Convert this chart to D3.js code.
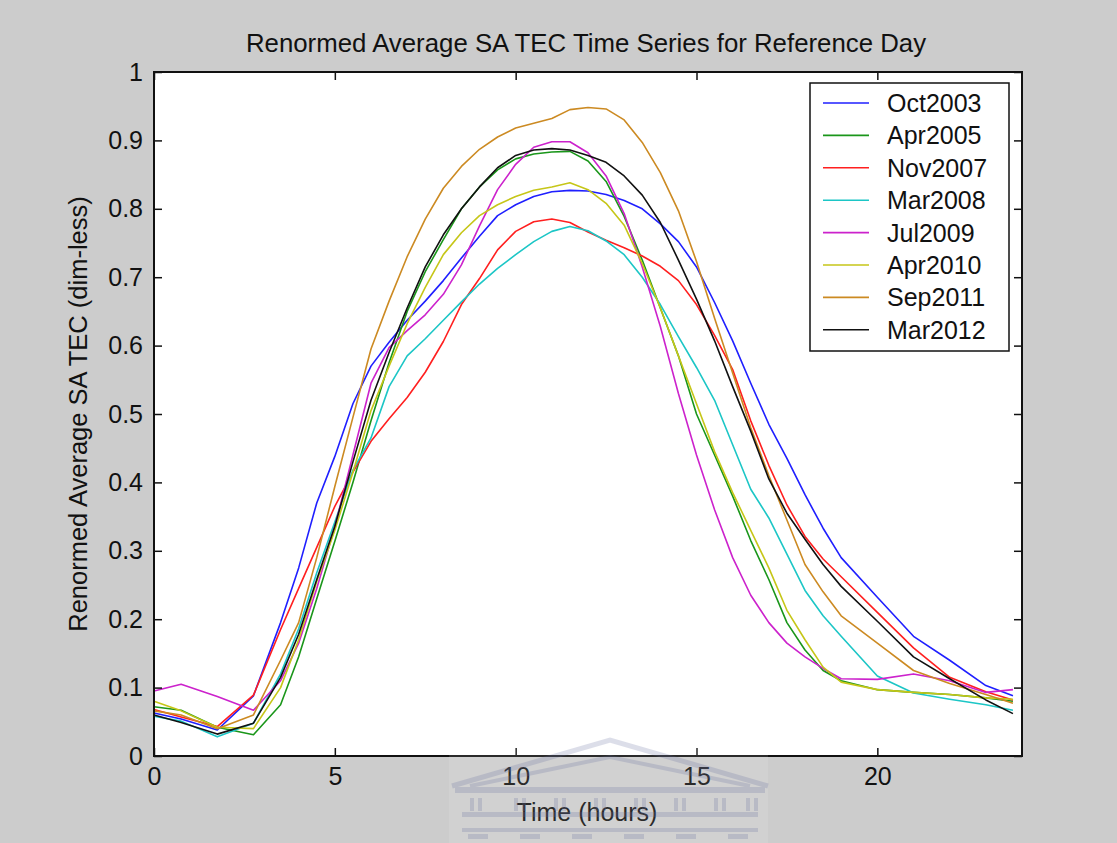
<!DOCTYPE html>
<html>
<head>
<meta charset="utf-8">
<script src="https://cdn.jsdelivr.net/npm/d3@7"></script>
<style>
  html, body { margin: 0; padding: 0; background: #cccccc; }
  svg { display: block; }
  text { font-family: "Liberation Sans", Arial, sans-serif; fill: #111; }
</style>
</head>
<body>
<svg id="chart" width="1117" height="843"></svg>
<script>
// ---- Data ----
const hours = [0, 0.75, 1.75, 2.75, 3.5, 4, 4.5, 5, 5.5, 6, 6.5, 7, 7.5, 8, 8.5, 9, 9.5, 10, 10.5, 11, 11.5, 12, 12.5, 13, 13.5, 14, 14.5, 15, 15.5, 16, 16.5, 17, 17.5, 18, 18.5, 19, 20, 21, 22, 23, 23.75];

const oct2003 = [0.063, 0.054, 0.038, 0.088, 0.195, 0.275, 0.37, 0.438, 0.515, 0.57, 0.605, 0.637, 0.665, 0.695, 0.728, 0.76, 0.79, 0.806, 0.818, 0.825, 0.827, 0.826, 0.821, 0.812, 0.80, 0.778, 0.752, 0.715, 0.663, 0.607, 0.545, 0.485, 0.435, 0.382, 0.333, 0.29, 0.232, 0.175, 0.14, 0.103, 0.088];
const apr2005 = [0.072, 0.067, 0.042, 0.031, 0.075, 0.145, 0.23, 0.314, 0.40, 0.49, 0.575, 0.65, 0.708, 0.755, 0.80, 0.832, 0.857, 0.873, 0.88, 0.883, 0.884, 0.87, 0.84, 0.789, 0.725, 0.655, 0.585, 0.50, 0.44, 0.38, 0.315, 0.258, 0.195, 0.155, 0.125, 0.11, 0.097, 0.093, 0.09, 0.085, 0.08];
const nov2007 = [0.068, 0.057, 0.043, 0.089, 0.185, 0.245, 0.305, 0.365, 0.415, 0.46, 0.493, 0.524, 0.561, 0.606, 0.66, 0.698, 0.74, 0.767, 0.781, 0.785, 0.78, 0.766, 0.754, 0.743, 0.731, 0.716, 0.695, 0.66, 0.615, 0.565, 0.49, 0.425, 0.367, 0.321, 0.288, 0.262, 0.21, 0.158, 0.115, 0.094, 0.082];
const mar2008 = [0.058, 0.051, 0.028, 0.048, 0.12, 0.186, 0.268, 0.342, 0.418, 0.465, 0.54, 0.585, 0.61, 0.637, 0.664, 0.69, 0.713, 0.733, 0.752, 0.767, 0.774, 0.768, 0.753, 0.733, 0.70, 0.66, 0.613, 0.568, 0.52, 0.455, 0.39, 0.348, 0.295, 0.242, 0.205, 0.175, 0.117, 0.092, 0.083, 0.075, 0.067];
const jul2009 = [0.095, 0.105, 0.087, 0.067, 0.11, 0.165, 0.245, 0.335, 0.44, 0.545, 0.597, 0.622, 0.645, 0.675, 0.718, 0.775, 0.828, 0.865, 0.89, 0.898, 0.898, 0.882, 0.848, 0.793, 0.715, 0.628, 0.53, 0.44, 0.36, 0.29, 0.235, 0.195, 0.165, 0.145, 0.128, 0.113, 0.112, 0.12, 0.11, 0.093, 0.097];
const apr2010 = [0.080, 0.066, 0.042, 0.04, 0.10, 0.17, 0.255, 0.33, 0.415, 0.505, 0.57, 0.632, 0.685, 0.733, 0.765, 0.79, 0.806, 0.818, 0.827, 0.832, 0.838, 0.828, 0.808, 0.776, 0.72, 0.655, 0.585, 0.515, 0.445, 0.385, 0.33, 0.275, 0.213, 0.17, 0.13, 0.108, 0.097, 0.093, 0.09, 0.085, 0.083];
const sep2011 = [0.066, 0.06, 0.04, 0.06, 0.14, 0.195, 0.29, 0.394, 0.495, 0.595, 0.665, 0.73, 0.785, 0.83, 0.862, 0.887, 0.905, 0.918, 0.925, 0.932, 0.945, 0.948, 0.946, 0.93, 0.897, 0.853, 0.797, 0.723, 0.64, 0.56, 0.48, 0.41, 0.345, 0.28, 0.24, 0.205, 0.165, 0.125, 0.106, 0.09, 0.077];
const mar2012 = [0.060, 0.049, 0.032, 0.048, 0.115, 0.178, 0.258, 0.336, 0.43, 0.52, 0.59, 0.655, 0.715, 0.762, 0.80, 0.832, 0.86, 0.878, 0.886, 0.888, 0.886, 0.878, 0.868, 0.848, 0.82, 0.78, 0.725, 0.668, 0.607, 0.54, 0.475, 0.405, 0.355, 0.317, 0.28, 0.248, 0.197, 0.145, 0.113, 0.082, 0.062];

const seriesNames = ["Oct2003", "Apr2005", "Nov2007", "Mar2008", "Jul2009", "Apr2010", "Sep2011", "Mar2012"];
const seriesValues = [oct2003, apr2005, nov2007, mar2008, jul2009, apr2010, sep2011, mar2012];
const seriesColors = ["#1f1fff", "#1a961a", "#ff1f1f", "#1cc6c6", "#cc22cc", "#c6c618", "#cc8a22", "#111111"];

const xTicks = [0, 5, 10, 15, 20];
const yTicks = [0, 0.1, 0.2, 0.3, 0.4, 0.5, 0.6, 0.7, 0.8, 0.9, 1];

const titleText = "Renormed Average SA TEC Time Series for Reference Day";
const xLabelText = "Time (hours)";
const yLabelText = "Renormed Average SA TEC (dim-less)";

// ---- Layout ----
const W = 1117, H = 843;
const plot = { left: 154, right: 1022, top: 72, bottom: 756 };
const FS = 25;

const svg = d3.select("#chart");
svg.append("rect").attr("width", W).attr("height", H).attr("fill", "#cccccc");

const x = d3.scaleLinear().domain([0, 24]).range([plot.left, plot.right]);
const y = d3.scaleLinear().domain([0, 1]).range([plot.bottom, plot.top]);

// plot area
svg.append("rect")
  .attr("x", plot.left).attr("y", plot.top)
  .attr("width", plot.right - plot.left).attr("height", plot.bottom - plot.top)
  .attr("fill", "#ffffff");

// lines
const line = d3.line().x((d, i) => x(hours[i])).y(d => y(d));
const gLines = svg.append("g");
seriesValues.forEach((vals, k) => {
  gLines.append("path")
    .datum(vals)
    .attr("d", line)
    .attr("fill", "none")
    .attr("stroke", seriesColors[k])
    .attr("stroke-width", 1.6)
    .attr("stroke-linejoin", "round");
});

// axes
function styleAxis(g) {
  g.select(".domain").remove();
  g.selectAll(".tick line").attr("stroke", "#111").attr("stroke-width", 1.5);
  g.selectAll(".tick text").style("font-size", FS + "px").attr("fill", "#111");
}
svg.append("g").attr("transform", `translate(0,${plot.bottom})`)
  .call(d3.axisBottom(x).tickValues(xTicks).tickSize(-8).tickPadding(11).tickFormat(d3.format("d")))
  .call(styleAxis);
svg.append("g").attr("transform", `translate(0,${plot.top})`)
  .call(d3.axisTop(x).tickValues(xTicks).tickSize(-8).tickFormat(""))
  .call(styleAxis);
svg.append("g").attr("transform", `translate(${plot.left},0)`)
  .call(d3.axisLeft(y).tickValues(yTicks).tickSize(-8).tickPadding(11).tickFormat(d => d3.format("")(+d.toFixed(1))))
  .call(styleAxis);
svg.append("g").attr("transform", `translate(${plot.right},0)`)
  .call(d3.axisRight(y).tickValues(yTicks).tickSize(-8).tickFormat(""))
  .call(styleAxis);

// box
svg.append("rect")
  .attr("x", plot.left).attr("y", plot.top)
  .attr("width", plot.right - plot.left).attr("height", plot.bottom - plot.top)
  .attr("fill", "none").attr("stroke", "#111").attr("stroke-width", 2);

// title & labels
svg.append("text").attr("x", (plot.left + plot.right) / 2 - 2).attr("y", 52)
  .attr("text-anchor", "middle").style("font-size", "25.8px").text(titleText);
svg.append("text").attr("x", (plot.left + plot.right) / 2 - 1).attr("y", 821)
  .attr("text-anchor", "middle").style("font-size", FS + "px").text(xLabelText);
svg.append("text").attr("transform", `translate(87,${(plot.top + plot.bottom) / 2}) rotate(-90)`)
  .attr("text-anchor", "middle").style("font-size", "25.5px").text(yLabelText);

// legend
const leg = { x: 810, y: 83, w: 199, h: 268, row0: 20, rowStep: 32.4 };
const gLeg = svg.append("g");
gLeg.append("rect").attr("x", leg.x).attr("y", leg.y).attr("width", leg.w).attr("height", leg.h)
  .attr("fill", "#fff").attr("stroke", "#111").attr("stroke-width", 1.5);
seriesNames.forEach((name, k) => {
  const yy = leg.y + leg.row0 + k * leg.rowStep;
  gLeg.append("line").attr("x1", leg.x + 13).attr("x2", leg.x + 59).attr("y1", yy).attr("y2", yy)
    .attr("stroke", seriesColors[k]).attr("stroke-width", 1.6);
  gLeg.append("text").attr("x", leg.x + 77).attr("y", yy).attr("dy", "0.36em")
    .style("font-size", FS + "px").text(name);
});

// faint watermark (university building) at the bottom centre
const wm = svg.append("g").attr("opacity", 0.3);
wm.append("rect").attr("x", 449).attr("y", 738).attr("width", 319).attr("height", 105).attr("fill", "#ffffff").attr("opacity", 0.35);
const wmc = "#8d93b8";
wm.append("path").attr("d", "M452,786 L610,740 L768,786").attr("fill", "none").attr("stroke", wmc).attr("stroke-width", 5);
wm.append("path").attr("d", "M470,786 L610,757 L750,786").attr("fill", "none").attr("stroke", wmc).attr("stroke-width", 4);
wm.append("rect").attr("x", 455).attr("y", 787).attr("width", 310).attr("height", 6).attr("fill", wmc);
[476, 520, 560, 600, 640, 680, 720, 752].forEach(cx => {
  wm.append("rect").attr("x", cx - 6).attr("y", 798).attr("width", 4).attr("height", 13).attr("fill", wmc);
  wm.append("rect").attr("x", cx + 2).attr("y", 798).attr("width", 4).attr("height", 13).attr("fill", wmc);
});
wm.append("rect").attr("x", 462).attr("y", 812).attr("width", 296).attr("height", 5).attr("fill", wmc);
wm.append("rect").attr("x", 462).attr("y", 828).attr("width", 296).attr("height", 4).attr("fill", wmc);
[478, 530, 582, 634, 686, 738].forEach(cx => {
  wm.append("rect").attr("x", cx - 10).attr("y", 834).attr("width", 20).attr("height", 5).attr("fill", wmc);
});
</script>
</body>
</html>
